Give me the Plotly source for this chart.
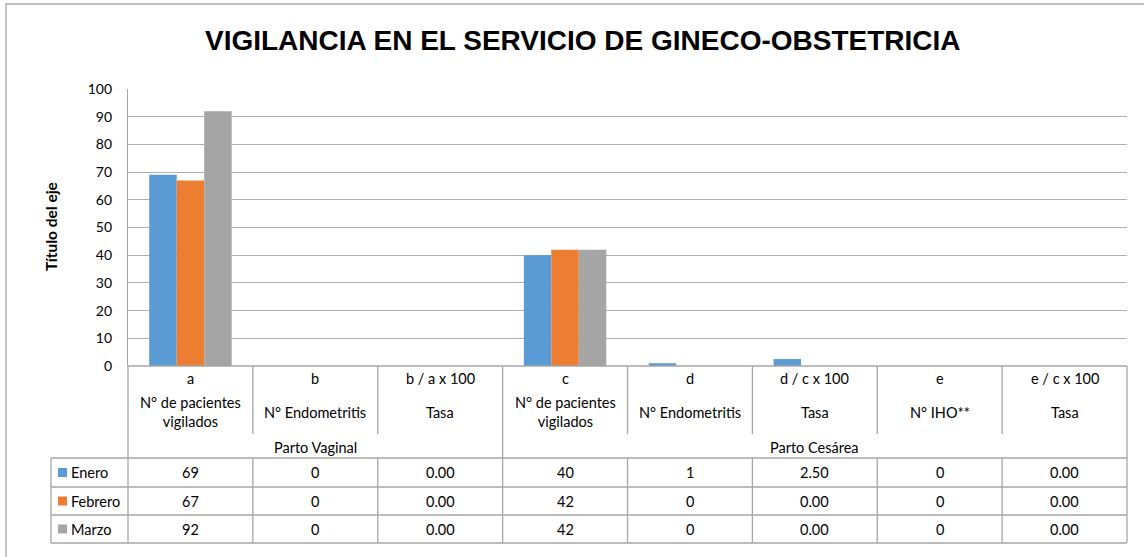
import plotly.graph_objects as go

# ---------------- data ----------------
letters = ["a", "b", "b / a x 100", "c", "d", "d / c x 100", "e", "e / c x 100"]
descriptions = ["N° de pacientes<br>vigilados", "N° Endometritis", "Tasa",
                "N° de pacientes<br>vigilados", "N° Endometritis", "Tasa",
                "N° IHO**", "Tasa"]
groups = ["Parto Vaginal", "Parto Cesárea"]
group_sizes = [3, 5]
series_names = ["Enero", "Febrero", "Marzo"]
enero = [69, 0, 0.00, 40, 1, 2.50, 0, 0.00]
febrero = [67, 0, 0.00, 42, 0, 0.00, 0, 0.00]
marzo = [92, 0, 0.00, 42, 0, 0.00, 0, 0.00]
is_rate = [False, False, True, False, False, True, False, True]
colors = ["#5B9BD5", "#ED7D31", "#A5A5A5"]
series = [enero, febrero, marzo]

W, H = 1144, 557
L, R, T, B = 128, 17, 89, 191
PW, PH = W - L - R, H - T - B

def px(x):
    return (x - L) / PW

def py(y):
    return (H - B - y) / PH

n = len(letters)
fig = go.Figure()
xs = list(range(n))
for name, vals, c in zip(series_names, series, colors):
    fig.add_trace(go.Bar(x=xs, y=vals, name=name, marker=dict(color=c, line=dict(width=0)),
                         showlegend=False, hoverinfo="skip"))

FONT = "Lato, 'Open Sans', sans-serif"
FS = 14.5
LINE = "#A6A6A6"

shapes = []
ann = []

def hline(x0, x1, y):
    shapes.append(dict(type="line", xref="paper", yref="paper", x0=x0, x1=x1, y0=y, y1=y,
                       line=dict(color=LINE, width=1.3)))

def vline(x, y0, y1):
    shapes.append(dict(type="line", xref="paper", yref="paper", x0=x, x1=x, y0=y0, y1=y1,
                       line=dict(color=LINE, width=1.3)))

y_top, y_head, y_grp = 366, 434, 458
row_y = [458, 487, 515, 543]
leg_left = px(51)

hline(0, 1, py(y_top))
for yy in row_y:
    hline(leg_left, 1, py(yy))
vline(leg_left, py(row_y[0]), py(row_y[-1]))
vline(0, py(y_top), py(row_y[-1]))
vline(1, py(y_top), py(row_y[-1]))
for i in range(1, n):
    xb = i / n
    vline(xb, py(y_top), py(y_head))
    vline(xb, py(row_y[0]), py(row_y[-1]))
acc = 0
for gs in group_sizes[:-1]:
    acc += gs
    vline(acc / n, py(y_head), py(y_grp))

for i in range(n):
    xc = (i + 0.5) / n
    ann.append(dict(x=xc, y=py(378), text=letters[i]))
    ann.append(dict(x=xc, y=py(412), text=descriptions[i]))

acc = 0
for g, gs in zip(groups, group_sizes):
    xc = (acc + gs / 2) / n
    ann.append(dict(x=xc, y=py(447), text=g))
    acc += gs

for r, (name, vals, c) in enumerate(zip(series_names, series, colors)):
    yc = (row_y[r] + row_y[r + 1]) / 2
    for i, v in enumerate(vals):
        txt = f"{v:.2f}" if is_rate[i] else f"{v:g}"
        ann.append(dict(x=(i + 0.5) / n, y=py(yc), text=txt))
    shapes.append(dict(type="rect", xref="paper", yref="paper", x0=px(58), x1=px(67),
                       y0=py(yc + 4.5), y1=py(yc - 4.5), fillcolor=c, line=dict(width=0)))
    ann.append(dict(x=px(69), y=py(yc), text=name, xanchor="left"))

annotations = []
for a in ann:
    d = dict(xref="paper", yref="paper", showarrow=False, font=dict(family=FONT, size=FS, color="#000000"),
             xanchor="center", yanchor="middle")
    d.update(a)
    annotations.append(d)

annotations.append(dict(xref="paper", yref="paper", x=px(51), y=py(227), text="<b>Título del eje</b>",
                        textangle=-90, showarrow=False, font=dict(family=FONT, size=15.5, color="#000000"),
                        xanchor="center", yanchor="middle"))
annotations.append(dict(xref="paper", yref="paper", x=px(583), y=py(41),
                        text="<b>VIGILANCIA EN EL SERVICIO DE GINECO-OBSTETRICIA</b>",
                        showarrow=False, font=dict(family="'Liberation Sans', Arial, sans-serif", size=28,
                                                   color="#000000"),
                        xanchor="center", yanchor="middle"))

shapes.append(dict(type="rect", xref="paper", yref="paper", x0=px(6), x1=px(1160), y0=py(4), y1=py(575),
                   line=dict(color="#A6A6A6", width=1.3), fillcolor="rgba(0,0,0,0)"))

fig.update_layout(
    width=W, height=H,
    margin=dict(l=L, r=R, t=T, b=B, pad=0),
    paper_bgcolor="white", plot_bgcolor="white",
    barmode="group", bargap=0.34, bargroupgap=0,
    xaxis=dict(range=[-0.5, n - 0.5], showticklabels=False, showgrid=False, zeroline=False,
               showline=False, ticks=""),
    yaxis=dict(range=[0, 100], dtick=10, showgrid=True, gridcolor="#AFAFAF", gridwidth=1,
               zeroline=False, showline=True, linecolor="#A6A6A6", linewidth=1.3,
               tickfont=dict(family=FONT, size=14, color="#000000"), ticks="", ticklabelstandoff=12),
    shapes=shapes,
    annotations=annotations,
    showlegend=False,
    hovermode=False,
)

fig.write_html("out.html", config={"displayModeBar": False},
               post_script="document.body.style.margin='0';document.body.style.overflow='hidden';")
